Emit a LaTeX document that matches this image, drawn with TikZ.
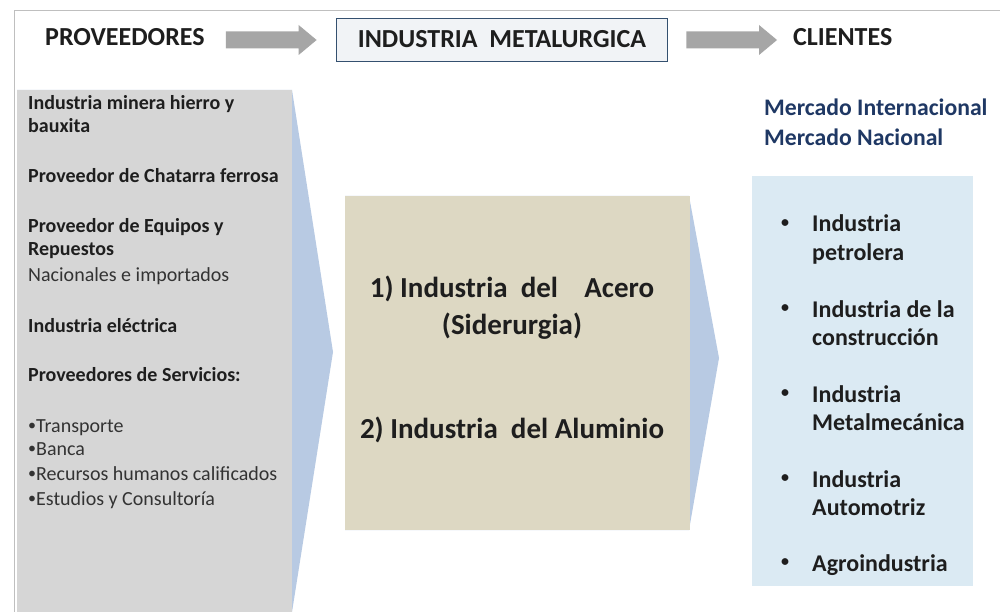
\documentclass[tikz,border=0pt]{standalone}
\usepackage{fontspec}
\setmainfont{Carlito}
\usetikzlibrary{calc}
\definecolor{framegray}{HTML}{BFBFBF}
\definecolor{arrowgray}{HTML}{A6A6A6}
\definecolor{panelgray}{HTML}{D6D6D6}
\definecolor{chevblue}{HTML}{B8CAE3}
\definecolor{tanfill}{HTML}{DDD8C3}
\definecolor{rightblue}{HTML}{DBEAF3}
\definecolor{boxfill}{HTML}{F1F3F6}
\definecolor{boxline}{HTML}{34506F}
\definecolor{txtdark}{HTML}{1E1E1E}
\definecolor{txtgray}{HTML}{333333}
\definecolor{navy}{HTML}{1F3864}
\newcommand\grayarrow[2]{%
  \fill[arrowgray] ($(#1)+(0,-8.5)$) -- ($(#2)+(-18,-8.5)$) -- ($(#2)+(-18,-15)$) -- (#2)
    -- ($(#2)+(-18,15)$) -- ($(#2)+(-18,8.5)$) -- ($(#1)+(0,8.5)$) -- cycle;}
\newcommand\sbul{{\fontsize{16}{16}\selectfont\raisebox{1.2pt}{•}}}
\begin{document}
\begin{tikzpicture}[x=1pt,y=-1pt,
  hdr/.style={font={\fontsize{26}{31}\selectfont\bfseries}, text=txtdark, inner sep=0pt},
  indbox/.style={draw=boxline, line width=1.8pt, fill=boxfill, minimum width=331pt, minimum height=43pt, inner sep=0pt,
     font={\fontsize{26}{31}\selectfont\bfseries}, text=txtdark},
  lb/.style={font={\fontsize{20}{24}\selectfont\bfseries}, text=txtdark, inner sep=0pt, anchor=base west},
  lr/.style={font={\fontsize{20}{24}\selectfont}, text=txtgray, inner sep=0pt, anchor=base west},
  mid/.style={font={\fontsize{29}{35}\selectfont\bfseries}, text=txtdark, inner sep=0pt, anchor=base},
  rt/.style={font={\fontsize{24}{28}\selectfont\bfseries}, text=txtdark, inner sep=0pt, anchor=base west},
  rbul/.style={font={\fontsize{16}{16}\selectfont\bfseries}, text=txtdark, inner sep=0pt, anchor=center},
  nv/.style={font={\fontsize{23.7}{28}\selectfont\bfseries}, text=navy, inner sep=0pt, anchor=base west}]
\useasboundingbox (0,0) rectangle (1000,612);
\fill[white] (0,0) rectangle (1000,612);
\draw[framegray, line width=1pt] (14,612) -- (14,10.5) -- (1000,10.5);

% header
\node[hdr, anchor=base west] (prov) at (45,45.5) {PROVEEDORES};
\node[indbox] (ind) at (502,40) {\raisebox{1.5pt}{INDUSTRIA~~METALURGICA}};
\node[hdr, anchor=base west] (cli) at (793,45.5) {CLIENTES};
\coordinate (a1s) at ($(prov.east |- ind.center)+(21,0)$);
\coordinate (a1e) at ($(ind.west)+(-19,0)$);
\coordinate (a2s) at ($(ind.east)+(18,0)$);
\coordinate (a2e) at ($(cli.west |- ind.center)+(-16,0)$);
\grayarrow{a1s}{a1e}
\grayarrow{a2s}{a2e}

% left panel
\fill[chevblue] (17,90) -- (292,90) -- (333,352) -- (292,612) -- (17,612) -- cycle;
\fill[panelgray] (17,90) rectangle (292,612);
\node[lb] (l1) at (28,110) {Industria minera hierro y};
\node[lb] (l2) at (28,133) {bauxita};
\node[lb] (l3) at (28,183) {Proveedor de Chatarra ferrosa};
\node[lb] (l4) at (28,233) {Proveedor de Equipos y};
\node[lb] (l5) at (28,255) {Repuestos};
\node[lr] (l6) at (28,281) {Nacionales e importados};
\node[lb] (l7) at (28,332) {Industria eléctrica};
\node[lb] (l8) at (28,381) {Proveedores de Servicios:};
\node[lr] (l9) at (28,432) {\sbul Transporte};
\node[lr] (l10) at (28,455) {\sbul Banca};
\node[lr] (l11) at (28,480) {\sbul Recursos humanos calificados};
\node[lr] (l12) at (28,505) {\sbul Estudios y Consultoría};

% middle
\fill[chevblue] (345,196) -- (689,196) -- (719,358) -- (689,530) -- (345,530) -- cycle;
\fill[tanfill] (345,196) rectangle (689.5,530);
\node[mid] (m1) at (512,297) {1)~Industria~~del~~~~Acero};
\node[mid] (m2) at (512,334) {(Siderurgia)};
\node[mid] (m3) at (512,438) {2)~Industria~~del~Aluminio};

% right
\node[nv] (n1) at (764,116) {Mercado Internacional};
\node[nv] (n2) at (764,146) {Mercado Nacional};
\fill[rightblue] (752,176) rectangle (973,586);
\foreach \y/\a/\b [count=\i] in {232/Industria/petrolera, 317/Industria de la/construcción, 402/Industria/Metalmecánica, 487/Industria/Automotriz}{
  \node[rbul] (b\i) at (785,\y-8) {•};
  \node[rt] (r\i a) at (812,\y) {\a};
  \node[rt] (r\i b) at (812,\y+28) {\b};
}
\node[rbul] (b5) at (785,571-8) {•};
\node[rt] (r5a) at (812,571) {Agroindustria};
\end{tikzpicture}
\end{document}
